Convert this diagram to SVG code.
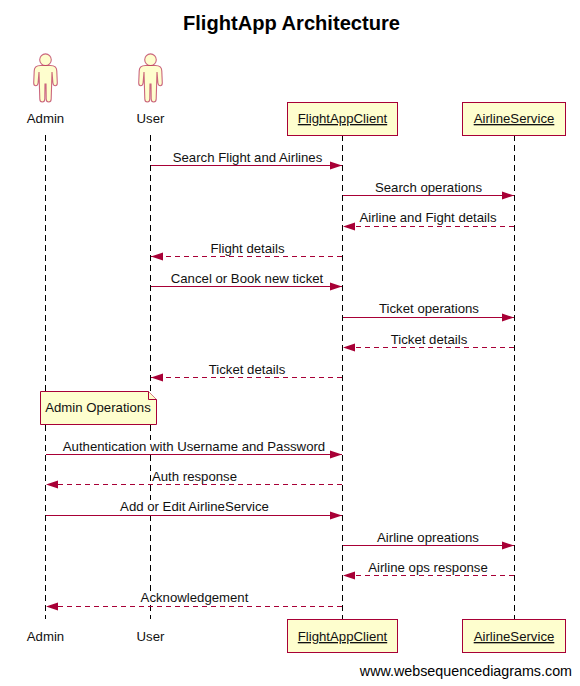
<svg xmlns="http://www.w3.org/2000/svg" width="580" height="686" viewBox="0 0 580 686">
<style>
text{font-family:"Liberation Sans",Arial,sans-serif;font-size:13.2px;fill:#111;text-anchor:middle}
.box{fill:#FEFECE;stroke:#A80036;stroke-width:1}
.life{stroke:#000;stroke-width:1;stroke-dasharray:6 4;fill:none}
.m{stroke:#A80036;stroke-width:1;fill:none}
.r{stroke-dasharray:5 4}
.act{fill:#FEFECE;stroke:#A80036;stroke-width:1.1;stroke-opacity:.6}
.u{text-decoration:underline}
.bg{fill:#fff}
</style>
<defs>
<marker id="a" markerUnits="userSpaceOnUse" markerWidth="13" markerHeight="10" refX="12" refY="4.500" orient="auto-start-reverse"><path d="M0 0.500L12 4.500L0 8.500Z" fill="#A80036"/></marker>
<g id="fig">
<circle cx="0" cy="-31.300" r="5.800" class="act"/>
<path class="act" d="M-5 -25.500Q-11.300 -25.500 -11.300 -20L-11.800 -8Q-11.800 -5.300 -9.800 -5.300Q-7.800 -5.300 -7.400 -8L-6.500 -19L-5.700 8Q-5.700 11 -3.200 11Q-0.700 11 -0.700 8L-0.500 -7L0.500 -7L0.700 8Q0.700 11 3.200 11Q5.700 11 5.700 8L6.500 -19L7.400 -8Q7.800 -5.300 9.800 -5.300Q11.800 -5.300 11.800 -8L11.300 -20Q11.300 -25.500 5 -25.500Z"/>
</g>
</defs>
<rect width="580" height="686" fill="#fff"/>
<text id="title" x="291.500" y="30" style="font-size:20.1px;font-weight:bold;fill:#000">FlightApp Architecture</text>
<g id="lifelines">
<path class="life" d="M45.500 135V619"/>
<path class="life" d="M150.500 135V619"/>
<path class="life" d="M342.500 135V619"/>
<path class="life" d="M514.500 135V619"/>
</g>
<g id="connectors">
<path class="m" marker-end="url(#a)" d="M151 165.500H342"/>
<path class="m" marker-end="url(#a)" d="M343 195.500H514"/>
<path class="m r" marker-end="url(#a)" d="M514 226.500H343"/>
<path class="m r" marker-end="url(#a)" d="M342 256.500H151"/>
<path class="m" marker-end="url(#a)" d="M151 286.500H342"/>
<path class="m" marker-end="url(#a)" d="M343 317.500H514"/>
<path class="m r" marker-end="url(#a)" d="M514 347.500H343"/>
<path class="m r" marker-end="url(#a)" d="M342 377.500H151"/>
<path class="m" marker-end="url(#a)" d="M46 454.500H342"/>
<path class="m r" marker-end="url(#a)" d="M342 484.500H46"/>
<path class="m" marker-end="url(#a)" d="M46 515.500H342"/>
<path class="m" marker-end="url(#a)" d="M343 545.500H514"/>
<path class="m r" marker-end="url(#a)" d="M514 575.500H343"/>
<path class="m r" marker-end="url(#a)" d="M342 606.500H46"/>
</g>
<g id="messages">
<text x="247.500" y="162">Search Flight and Airlines</text>
<text x="428.500" y="192">Search operations</text>
<text x="428" y="222">Airline and Fight details</text>
<text x="247.500" y="253">Flight details</text>
<text x="247" y="283">Cancel or Book new ticket</text>
<text x="429" y="313">Ticket operations</text>
<text x="429" y="344">Ticket details</text>
<text x="247" y="374">Ticket details</text>
<rect class="bg" x="146" y="440" width="9" height="13"/>
<text x="194" y="451">Authentication with Username and Password</text>
<text x="194.500" y="481">Auth response</text>
<rect class="bg" x="146" y="500" width="9" height="14"/>
<text x="194.500" y="511">Add or Edit AirlineService</text>
<text x="428" y="542">Airline opreations</text>
<text x="428" y="572">Airline ops response</text>
<rect class="bg" x="146" y="591" width="9" height="14"/>
<text x="194.500" y="602">Acknowledgement</text>
</g>
<g id="admin-top"><use href="#fig" x="45.500" y="91"/><text x="45.500" y="123">Admin</text></g>
<g id="user-top"><use href="#fig" x="150.500" y="91"/><text x="150.500" y="123">User</text></g>
<g id="client-top"><rect class="box" x="287.500" y="102.500" width="110" height="33"/><text class="u" x="342.500" y="123">FlightAppClient</text></g>
<g id="service-top"><rect class="box" x="462.500" y="102.500" width="103" height="33"/><text class="u" x="514" y="123">AirlineService</text></g>
<g id="note">
<path class="box" d="M40.500 391.500H148.500L156.500 399.500V424.500H40.500Z"/>
<path class="box" d="M148.500 391.500V399.500H156.500"/>
<text x="98" y="412">Admin Operations</text>
</g>
<g id="admin-bottom"><text x="45.500" y="641">Admin</text></g>
<g id="user-bottom"><text x="150.500" y="641">User</text></g>
<g id="client-bottom"><rect class="box" x="287.500" y="619.500" width="110" height="33"/><text class="u" x="342.500" y="641">FlightAppClient</text></g>
<g id="service-bottom"><rect class="box" x="462.500" y="619.500" width="103" height="33"/><text class="u" x="514" y="641">AirlineService</text></g>
<text id="credit" x="572" y="676" style="font-size:14.3px;text-anchor:end;fill:#000">www.websequencediagrams.com</text>
</svg>
